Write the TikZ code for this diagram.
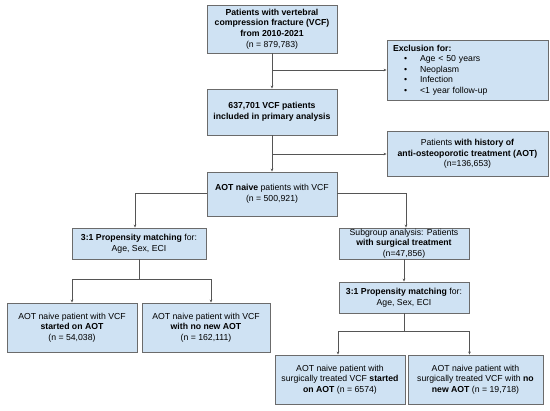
\documentclass[tikz,border=0pt]{standalone}
\usepackage{fontspec}
\setmainfont{Liberation Sans}
\usepackage{xcolor}
\usetikzlibrary{calc,
	positioning,
	arrows.meta}
\definecolor{boxblue}{HTML}{CFE2F3}
\definecolor{boxline}{HTML}{6B6B6B}
\definecolor{wire}{HTML}{555555}
\tikzstyle{blk}=[draw=boxline, line width=0.9pt, fill=boxblue, align=center, inner sep=0,
		font=\fontsize{8.7}{10.6}\selectfont]
\tikzstyle{lnk}=[draw=wire, line width=0.8pt]
\tikzstyle{arr}=[lnk, -{Stealth[length=3pt,width=2.6pt]}]

\begin{document}
\begin{tikzpicture}[x=1pt, y=-1pt]
	\useasboundingbox (0,0) rectangle (550,411);
	% main column
	\node[blk, minimum width=130pt, minimum height=48pt] (vcf) at (272,29)
		{\textbf{Patients with vertebral}\\\textbf{compression fracture (VCF)}\\\textbf{from 2010-2021}\\(n = 879,783)};
	\node[blk, minimum width=130pt, minimum height=46pt] (incl) at (272,112)
		{\textbf{637,701 VCF patients}\\\textbf{included in primary analysis}};
	\node[blk, minimum width=130pt, minimum height=44pt] (naive) at (272,194)
		{\textbf{AOT naive} patients with VCF\\(n = 500,921)};
	% side boxes
	\node[blk, minimum width=161pt, minimum height=60pt, align=left, text width=149pt, inner xsep=6pt] (excl) at (467.5,70)
		{\textbf{Exclusion for:}\\
		\hspace*{11pt}\textbullet\hspace{13pt}Age < 50 years\\
		\hspace*{11pt}\textbullet\hspace{13pt}Neoplasm\\
		\hspace*{11pt}\textbullet\hspace{13pt}Infection\\
		\hspace*{11pt}\textbullet\hspace{13pt}<1 year follow-up};
	\node[blk, minimum width=161pt, minimum height=45pt] (hist) at (467.5,154)
		{Patients \textbf{with history of}\\\textbf{anti-osteoporotic treatment (AOT)}\\(n=136,653)};
	% left branch
	\node[blk, minimum width=134pt, minimum height=31pt] (pmleft) at (139,243.5)
		{\textbf{3:1 Propensity matching} for:\\Age, Sex, ECI};
	\node[blk, minimum width=130pt, minimum height=49pt] (startL) at (72,327.5)
		{AOT naive patient with VCF\\\textbf{started on AOT}\\(n = 54,038)};
	\node[blk, minimum width=128pt, minimum height=49pt] (noneL) at (206,327.5)
		{AOT naive patient with VCF\\\textbf{with no new AOT}\\(n = 162,111)};
	% right branch
	\node[blk, minimum width=130pt, minimum height=31pt] (surg) at (404,243.5)
		{Subgroup analysis: Patients\\\textbf{with surgical treatment}\\(n=47,856)};
	\node[blk, minimum width=130pt, minimum height=31pt] (pmright) at (404,297.5)
		{\textbf{3:1 Propensity matching} for:\\Age, Sex, ECI};
	\node[blk, minimum width=130pt, minimum height=49pt] (startR) at (340,379.5)
		{AOT naive patient with\\surgically treated VCF \textbf{started}\\\textbf{on AOT} (n = 6574)};
	\node[blk, minimum width=135pt, minimum height=49pt] (noneR) at (475.5,379.5)
		{AOT naive patient with\\surgically treated VCF with \textbf{no}\\\textbf{new AOT} (n = 19,718)};

	% connectors
	\draw[arr] (vcf.south) -- (incl.north);
	\draw[arr] (vcf.south |- excl.west) -- (excl.west);
	\draw[arr] (incl.south) -- (naive.north);
	\draw[arr] (incl.south |- hist.west) -- (hist.west);
	\draw[arr] ([yshift=1pt]naive.west) -| ([xshift=-4pt]pmleft.north);
	\draw[arr] ([yshift=1pt]naive.east) -| ([xshift=2pt]surg.north);
	\draw[lnk] (pmleft.south) -- ++(0,20) coordinate (splitL);
	\draw[arr] (splitL) -| (startL.north);
	\draw[arr] (splitL) -| ([xshift=5pt]noneL.north);
	\draw[arr] (surg.south) -- (pmright.north);
	\draw[lnk] (pmright.south) -- ++(0,18) coordinate (splitR);
	\draw[arr] (splitR) -| ([xshift=-2pt]startR.north);
	\draw[arr] (splitR) -| ([xshift=-6pt]noneR.north);
\end{tikzpicture}
\end{document}
